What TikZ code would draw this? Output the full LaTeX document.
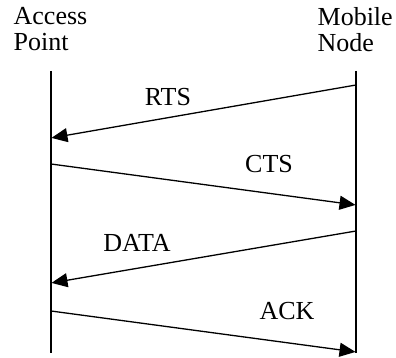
\documentclass[tikz,border=0pt]{standalone}
\usepackage{fontspec}
\setmainfont{Liberation Serif}
\usepackage{tikz}
\usetikzlibrary{arrows.meta,positioning}

\begin{document}
\begin{tikzpicture}[x=1pt,y=-1pt,line width=1.3pt]

\tikzset{hdrnode/.style={font=\fontsize{26}{26}\selectfont,inner sep=0pt,align=left,anchor=north west},
msgnode/.style={font=\fontsize{26}{26}\selectfont,inner sep=0pt},
msgarrow/.style={-{Triangle[length=16pt,width=14pt]},shorten >=0.5pt}}

\useasboundingbox (0,0) rectangle (396,358);

% Headers
\node[hdrnode] (ap) at (13,7) {Access\\Point};
\node[hdrnode] (mn) at (317,7) {Mobile\\Node};

% Lifelines
\coordinate (ap1) at (51,71); \coordinate (ap2) at (51,353);
\coordinate (mn1) at (356,71); \coordinate (mn2) at (356,353);
\draw (ap1) -- (ap2); \draw (mn1) -- (mn2);

% Message ends
\coordinate (rtsA) at (356,85); \coordinate (rtsB) at (51,138);
\coordinate (ctsA) at (51,164); \coordinate (ctsB) at (356,205);
\coordinate (dataA) at (356,231); \coordinate (dataB) at (51,283);
\coordinate (ackA) at (51,311); \coordinate (ackB) at (356,352);

% Messages
\draw[msgarrow] (rtsA) -- (rtsB); \draw[msgarrow] (ctsA) -- (ctsB);
\draw[msgarrow] (dataA) -- (dataB); \draw[msgarrow] (ackA) -- (ackB);

% Labels
\node[msgnode] (rts) at (168,97) {RTS};
\node[msgnode] (cts) at (269,164) {CTS};
\node[msgnode] (data) at (137,243) {DATA};
\node[msgnode] (ack) at (287,311) {ACK};

\end{tikzpicture}
\end{document}
